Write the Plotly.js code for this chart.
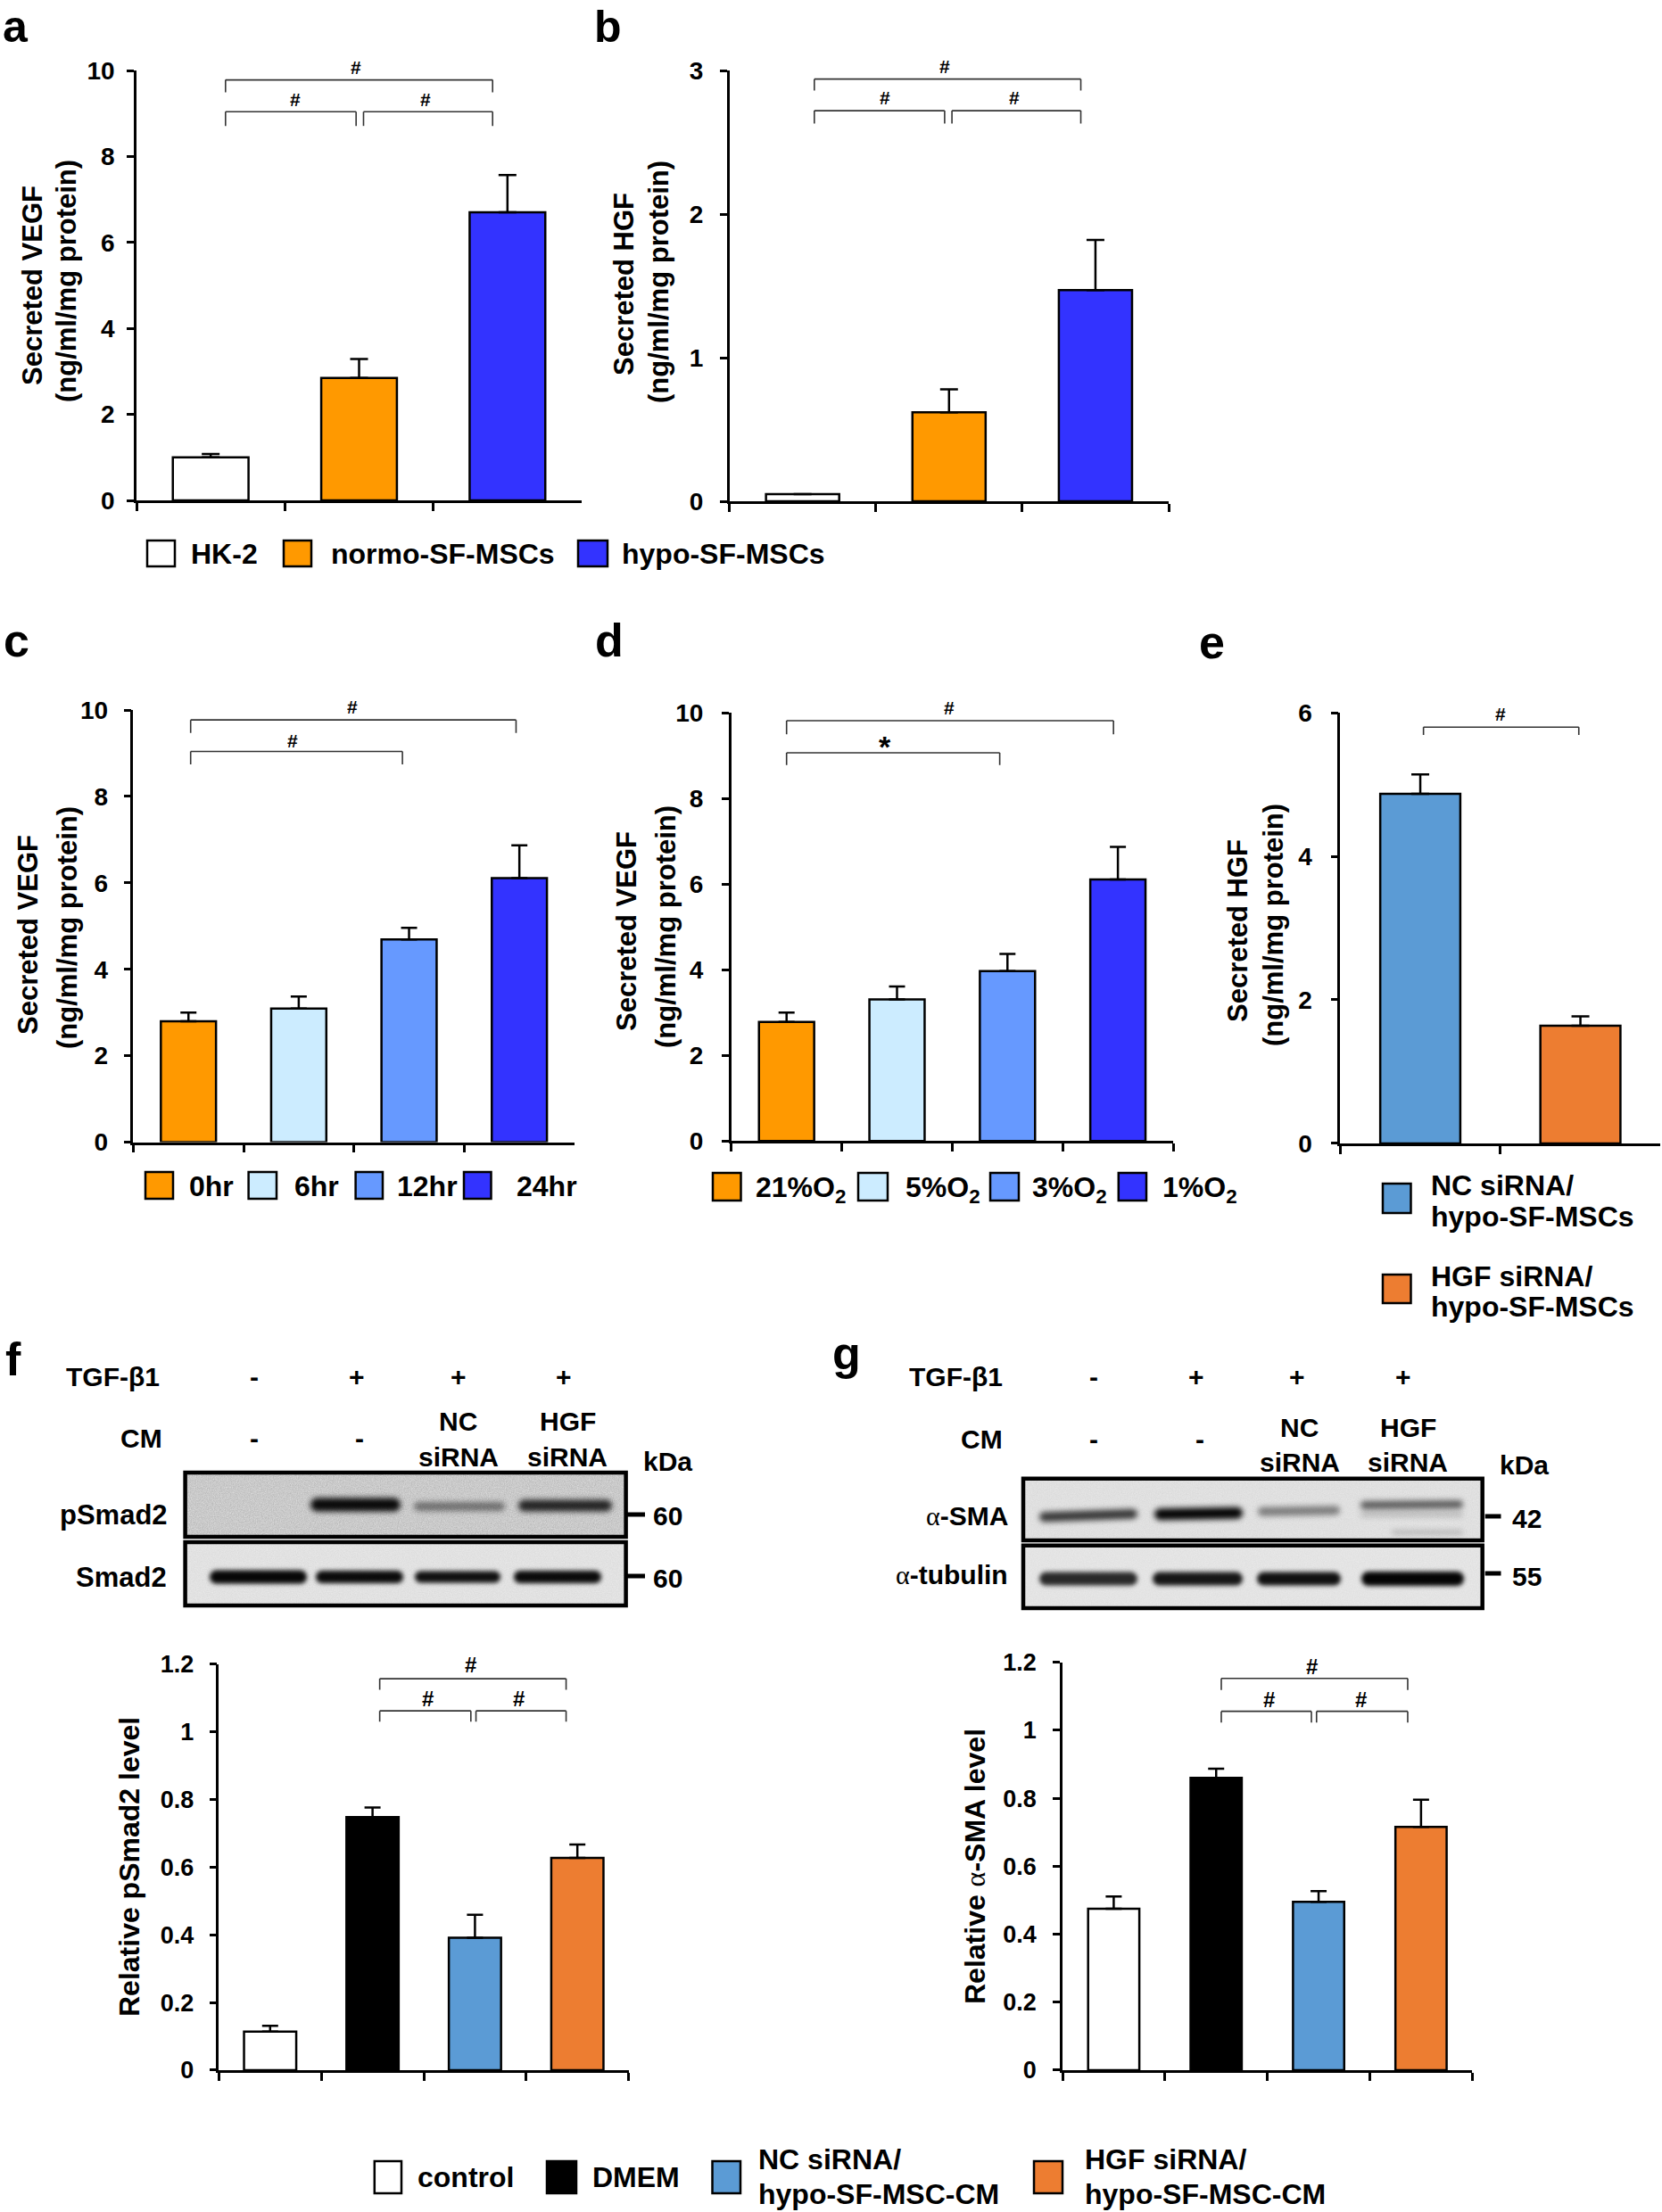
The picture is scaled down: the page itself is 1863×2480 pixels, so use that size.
<!DOCTYPE html>
<html><head><meta charset="utf-8">
<script src="https://cdn.plot.ly/plotly-3.0.1.min.js"></script>
<style>html,body{margin:0;padding:0;background:#fff}</style>
</head><body><div id="chart" style="width:1863px;height:2480px"></div>
<script>
// ---------------- DATA ----------------
const catsAB = ['HK-2', 'normo-SF-MSCs', 'hypo-SF-MSCs'];
const vegfA = [1.00, 2.85, 6.70];
const vegfAErr = [0.08, 0.44, 0.87];
const hgfB = [0.05, 0.62, 1.47];
const hgfBErr = [0.00, 0.16, 0.35];
const catsC = ['0hr', '6hr', '12hr', '24hr'];
const vegfC = [2.80, 3.09, 4.69, 6.11];
const vegfCErr = [0.20, 0.28, 0.27, 0.76];
const catsD = ['21%O2', '5%O2', '3%O2', '1%O2'];
const vegfD = [2.78, 3.31, 3.97, 6.11];
const vegfDErr = [0.22, 0.30, 0.40, 0.76];
const catsE = ['NC siRNA/hypo-SF-MSCs', 'HGF siRNA/hypo-SF-MSCs'];
const hgfE = [4.87, 1.64];
const hgfEErr = [0.27, 0.13];
const catsFG = ['control', 'DMEM', 'NC siRNA/hypo-SF-MSC-CM', 'HGF siRNA/hypo-SF-MSC-CM'];
const pSmad2F = [0.114, 0.748, 0.391, 0.627];
const pSmad2FErr = [0.017, 0.028, 0.068, 0.040];
const aSMAG = [0.475, 0.860, 0.495, 0.716];
const aSMAGErr = [0.036, 0.027, 0.032, 0.080];
const tgfLanes = ['-', '+', '+', '+'];
const cmLanes = ['-', '-', 'NC siRNA', 'HGF siRNA'];

// ---------------- STYLE / LAYOUT ----------------
const W = 1863, H = 2480;
const FONT = 'Liberation Sans, Arial, Helvetica, sans-serif';
const PX = x => x / W, PY = y => 1 - y / H;
const C = {white:'#FFFFFF', orange:'#FF9900', blue:'#3333FF', pale:'#CCECFF', mid:'#6699FF',
           eblue:'#5B9BD5', eorange:'#ED7D31', black:'#000000'};

const panels = [
  {n:'',  cats:catsAB, vals:vegfA, errs:vegfAErr, colors:[C.white,C.orange,C.blue], xd:[153,652], yd:[79,561], range:[0,10], dtick:2, tf:28, bw:0.51, cap:10, so:8},
  {n:'2', cats:catsAB, vals:hgfB, errs:hgfBErr, colors:[C.white,C.orange,C.blue], xd:[817.6,1310], yd:[79,562], range:[0,3], dtick:1, tf:28, bw:0.5, cap:10, so:13},
  {n:'3', cats:catsC, vals:vegfC, errs:vegfCErr, colors:[C.orange,C.pale,C.mid,C.blue], xd:[149.4,644], yd:[796,1280.6], range:[0,10], dtick:2, tf:28, bw:0.5, cap:9, so:12},
  {n:'4', cats:catsD, vals:vegfD, errs:vegfDErr, colors:[C.orange,C.pale,C.mid,C.blue], xd:[819.8,1315], yd:[799.3,1279.3], range:[0,10], dtick:2, tf:28, bw:0.5, cap:9, so:15},
  {n:'5', cats:catsE, vals:hgfE, errs:hgfEErr, colors:[C.eblue,C.eorange], xd:[1502.3,1861.3], yd:[799.1,1281.9], range:[0,6], dtick:2, tf:28, bw:0.5, cap:10, so:15},
  {n:'6', cats:catsFG, vals:pSmad2F, errs:pSmad2FErr, colors:[C.white,C.black,C.eblue,C.eorange], xd:[245.4,704.6], yd:[1865.8,2320.9], range:[0,1.2], dtick:0.2, tf:27, bw:0.51, cap:9, so:12},
  {n:'7', cats:catsFG, vals:aSMAG, errs:aSMAGErr, colors:[C.white,C.black,C.eblue,C.eorange], xd:[1191,1650.3], yd:[1863.8,2320.9], range:[0,1.2], dtick:0.2, tf:27, bw:0.5, cap:9, so:13},
];

const traces = [];
const layout = {width:W, height:H, margin:{l:0,r:0,t:0,b:0}, paper_bgcolor:'#fff', plot_bgcolor:'rgba(0,0,0,0)',
  showlegend:false, font:{family:FONT, color:'#000'}, shapes:[], annotations:[], images:[]};

panels.forEach(p => {
  const n = p.n;
  layout['xaxis'+n] = {domain:[PX(p.xd[0]),PX(p.xd[1])], anchor:'y'+n, type:'category',
    range:[-0.5, p.cats.length-0.5], showline:true, linewidth:2.5, linecolor:'#000',
    ticks:'outside', tickson:'boundaries', ticklen:9, tickwidth:2.5, tickcolor:'#000',
    showticklabels:false, showgrid:false, zeroline:false, fixedrange:true};
  layout['yaxis'+n] = {domain:[PY(p.yd[1]),PY(p.yd[0])], anchor:'x'+n, range:p.range, tick0:0, dtick:p.dtick,
    showline:true, linewidth:2.5, linecolor:'#000', ticks:'outside', ticklen:8, tickwidth:2.5, tickcolor:'#000',
    tickfont:{family:FONT, size:p.tf, color:'#000', weight:700}, ticklabelstandoff:p.so,
    showgrid:false, zeroline:false, fixedrange:true};
  traces.push({type:'bar', x:p.cats, y:p.vals, xaxis:'x'+n, yaxis:'y'+n, width:p.bw,
    marker:{color:p.colors, line:{color:'#000', width:2.5}},
    error_y:{type:'data', symmetric:false, array:p.errs, arrayminus:p.errs.map(()=>0),
             color:'#000', thickness:2.5, width:p.cap},
    hoverinfo:'x+y'});
});

// ---------- helpers ----------
function txt(text, x, y, size, o) {
  o = o || {};
  layout.annotations.push({text:text, x:PX(x), y:PY(y), xref:'paper', yref:'paper', showarrow:false,
    xanchor:o.xa||'center', yanchor:o.ya||'middle', textangle:o.ang||0,
    font:{family:FONT, size:size, color:'#000', weight:o.w||700}});
}
// significance label: x in category units of the panel, y converted from the panel's value scale
function dtxt(n, text, x, v, size) {
  const p = panels.find(q => q.n === n);
  const ypx = p.yd[1] - (v - p.range[0]) / (p.range[1] - p.range[0]) * (p.yd[1] - p.yd[0]);
  layout.annotations.push({text:text, x:x, y:PY(ypx), xref:'x'+n, yref:'paper', showarrow:false,
    xanchor:'center', yanchor:'middle', font:{family:FONT, size:size, color:'#000', weight:700}});
}
function bracket(n, x0, x1, y, yLeg) {
  const line = {color:'#333', width:1.6};
  const s = {type:'line', xref:'x'+n, yref:'y'+n};
  layout.shapes.push(Object.assign({}, s, {x0:x0, x1:x1, y0:y, y1:y, line:line}));
  layout.shapes.push(Object.assign({}, s, {x0:x0, x1:x0, y0:y, y1:yLeg, line:line}));
  layout.shapes.push(Object.assign({}, s, {x0:x1, x1:x1, y0:y, y1:yLeg, line:line}));
}
function box(x0, x1, y0, y1, color, lw) {
  layout.shapes.push({type:'rect', xref:'paper', yref:'paper', x0:PX(x0), x1:PX(x1), y0:PY(y1), y1:PY(y0),
    fillcolor:color, line:{color:'#000', width:lw||2.5}});
}
function pline(x0, y0, x1, y1, w) {
  layout.shapes.push({type:'line', xref:'paper', yref:'paper', x0:PX(x0), x1:PX(x1), y0:PY(y0), y1:PY(y1),
    line:{color:'#000', width:w}});
}

// ---------- panel letters ----------
txt('a', 1, 0, 50, {xa:'left', ya:'top'});
txt('b', 664, 0, 50, {xa:'left', ya:'top'});
[['c',2,718],['d',665,718],['e',1342,720],['f',4,1524],['g',931,1517]]
  .forEach(l => txt(l[0], l[1], l[2], 52, {xa:'left'}));

// ---------- y titles ----------
const yt = 31;
txt('Secreted VEGF', 36, 320, yt, {ang:-90}); txt('(ng/ml/mg protein)', 75, 315, yt, {ang:-90});
txt('Secreted HGF', 699, 319, yt, {ang:-90}); txt('(ng/ml/mg protein)', 738, 316, yt, {ang:-90});
txt('Secreted VEGF', 31, 1048, yt, {ang:-90}); txt('(ng/ml/mg protein)', 75, 1040, yt, {ang:-90});
txt('Secreted VEGF', 703, 1044, yt, {ang:-90}); txt('(ng/ml/mg protein)', 746, 1039, yt, {ang:-90});
txt('Secreted HGF', 1388, 1044, yt, {ang:-90}); txt('(ng/ml/mg protein)', 1427, 1037, yt, {ang:-90});
txt('Relative pSmad2 level', 145, 2093, 32, {ang:-90});
txt('Relative <span style="font-family:Liberation Serif;font-weight:400">α</span>-SMA level', 1093, 2093, 32, {ang:-90});

// ---------- significance brackets ----------
bracket('', 0.1, 1.9, 9.78, 9.49); bracket('', 0.1, 0.98, 9.04, 8.71); bracket('', 1.03, 1.9, 9.04, 8.71);
dtxt('', '#', 0.98, 10.08, 21); dtxt('', '#', 0.57, 9.32, 21); dtxt('', '#', 1.45, 9.32, 21);
bracket('2', 0.08, 1.9, 2.94, 2.86); bracket('2', 0.08, 0.97, 2.72, 2.63); bracket('2', 1.02, 1.9, 2.72, 2.63);
dtxt('2', '#', 0.97, 3.03, 21); dtxt('2', '#', 0.56, 2.81, 21); dtxt('2', '#', 1.445, 2.81, 21);
bracket('3', 0.02, 2.97, 9.77, 9.47); bracket('3', 0.02, 1.94, 9.04, 8.74);
dtxt('3', '#', 1.49, 10.08, 21); dtxt('3', '#', 0.945, 9.28, 21);
bracket('4', 0.0, 2.96, 9.82, 9.5); bracket('4', 0.0, 1.93, 9.07, 8.78);
dtxt('4', '#', 1.47, 10.13, 21); dtxt('4', '*', 0.89, 9.22, 34);
bracket('5', 0.02, 0.99, 5.80, 5.69);
dtxt('5', '#', 0.5, 5.98, 21);
bracket('6', 1.07, 2.89, 1.157, 1.124); bracket('6', 1.07, 1.96, 1.062, 1.030); bracket('6', 2.01, 2.89, 1.062, 1.030);
dtxt('6', '#', 1.96, 1.198, 24); dtxt('6', '#', 1.54, 1.099, 24); dtxt('6', '#', 2.43, 1.099, 24);
bracket('7', 1.05, 2.87, 1.153, 1.119); bracket('7', 1.05, 1.93, 1.056, 1.023); bracket('7', 1.98, 2.87, 1.056, 1.023);
dtxt('7', '#', 1.93, 1.187, 24); dtxt('7', '#', 1.52, 1.091, 24); dtxt('7', '#', 2.41, 1.091, 24);

// ---------- legends ----------
const LF = 32;
[[165,196,212],[318,349,369],[648,681,695]].forEach((g,i) => {
  box(g[0], g[1], 606, 635, panels[0].colors[i]); txt(catsAB[i], g[2], 621, LF, {xa:'left'});
});
[[163,194,209.6],[278.6,310,328],[398.6,429,442.8],[520,550.5,576.6]].forEach((g,i) => {
  box(g[0], g[1], 1314, 1344, panels[2].colors[i]); txt(catsC[i], g[2], 1330, LF, {xa:'left'});
});
[[799,830.5,845],[962,995,1012.7],[1110,1142,1154.6],[1253.8,1285,1300.6]].forEach((g,i) => {
  box(g[0], g[1], 1315, 1346, panels[3].colors[i]);
  txt(catsD[i].replace('O2','O<sub>2</sub>'), g[2], 1333, LF, {xa:'left'});
});
[[1327,1360,1329,1364],[1429,1461,1431,1465]].forEach((g,i) => {
  box(1550, 1581.5, g[0], g[1], panels[4].colors[i]);
  const parts = catsE[i].split('/');
  txt(parts[0]+'/', 1602, g[2], LF, {xa:'left'}); txt(parts[1], 1602, g[3], LF, {xa:'left'});
});
[[419.8,450,465.7],[613,646,661.6],[798.5,830,848],[1159,1191,1214]].forEach((g,i) => {
  box(g[0], g[1], 2423, 2459, panels[5].colors[i]);
  const parts = catsFG[i].split('/');
  if (parts.length === 1) txt(parts[0], g[2], 2441, LF, {xa:'left'});
  else { txt(parts[0]+'/', g[2], 2421, LF, {xa:'left'}); txt(parts[1], g[2], 2460, LF, {xa:'left'}); }
});

// ---------- western blots (illustrations) ----------
function blotImage(b) {
  const w = b.x1 - b.x0, h = b.y1 - b.y0;
  let s = "<svg xmlns='http://www.w3.org/2000/svg' width='" + w + "' height='" + h + "' viewBox='0 0 " + w + " " + h + "'>" +
    "<defs><filter id='f' x='-30%' y='-150%' width='160%' height='400%'><feGaussianBlur stdDeviation='" + b.blur + "'/></filter>" +
    "<filter id='n' x='0' y='0' width='100%' height='100%'><feTurbulence type='fractalNoise' baseFrequency='0.85' numOctaves='2' seed='" + b.seed + "'/>" +
    "<feColorMatrix type='matrix' values='0 0 0 0 0  0 0 0 0 0  0 0 0 0 0  0 0 0 " + b.noise + " 0'/></filter></defs>" +
    "<rect width='" + w + "' height='" + h + "' fill='" + b.bg + "'/>" +
    "<rect width='" + w + "' height='" + h + "' filter='url(#n)'/>";
  b.bands.forEach(bd => {
    const [x0, x1, yc, hh, d, tilt] = bd;
    const cx = (x0 + x1) / 2 - b.x0, cy = yc - b.y0;
    s += "<g transform='rotate(" + (tilt || 0) + " " + cx + " " + cy + ")'>" +
      "<rect x='" + (x0 - b.x0) + "' y='" + (yc - hh/2 - b.y0) + "' width='" + (x1 - x0) + "' height='" + hh +
      "' rx='" + (hh/2) + "' fill='#050505' fill-opacity='" + d + "' filter='url(#f)'/></g>";
  });
  s += "</svg>";
  layout.images.push({source:'data:image/svg+xml;charset=utf-8,' + encodeURIComponent(s), xref:'paper', yref:'paper',
    x:PX(b.x0), y:PY(b.y0), sizex:w/W, sizey:h/H, xanchor:'left', yanchor:'top', sizing:'stretch', layer:'above'});
  layout.shapes.push({type:'rect', xref:'paper', yref:'paper', x0:PX(b.x0), x1:PX(b.x1), y0:PY(b.y1), y1:PY(b.y0),
    line:{color:'#000', width:4.5}, fillcolor:'rgba(0,0,0,0)'});
}
blotImage({x0:207.6, x1:701.6, y0:1651, y1:1723, bg:'#e2e2e2', blur:3.2, seed:4, noise:0.22,
  bands:[[348,449,1687,15,0.95],[464,566,1689,10,0.45],[581,686,1688,13,0.82]]});
blotImage({x0:207.6, x1:701.6, y0:1729, y1:1800, bg:'#ebebeb', blur:2.6, seed:7, noise:0.08,
  bands:[[235,344,1768,15,0.97],[354,452,1768,14,0.95],[465,561,1768,13,0.93],[576,674,1768,14,0.95]]});
blotImage({x0:1147, x1:1661.7, y0:1657.8, y1:1727, bg:'#e9e9e9', blur:3, seed:2, noise:0.08,
  bands:[[1165,1275,1699,11,0.75,-2],[1294,1393,1697,13,0.98,-1],[1410,1502,1694,10,0.45,-1],
         [1525,1640,1687,9,0.6,-0.5],[1525,1640,1698,5,0.2],[1560,1640,1718,5,0.2]]});
blotImage({x0:1147, x1:1661.7, y0:1732.7, y1:1803, bg:'#ebebeb', blur:2.8, seed:9, noise:0.06,
  bands:[[1165,1275,1770,15,0.82],[1292,1393,1770,15,0.9],[1409,1503,1770,15,0.93],[1526,1641,1770,16,0.98]]});

// blot labels f
const BF = 30;
txt('TGF-β1', 181, 1543, BF, {xa:'right'});
txt('CM', 184, 1612, BF, {xa:'right'});
[284.7, 400, 513.6, 631.7].forEach((x,i) => txt(tgfLanes[i], x, 1543, BF));
[284.7, 403, 513.6, 636.4].forEach((x,i) => {
  const parts = cmLanes[i].split(' ');
  if (parts.length === 1) txt(parts[0], x, 1612, BF);
  else { txt(parts[0], x, 1593, BF); txt(parts[1], x, 1634, BF); }
});
txt('kDa', 748, 1638, BF);
txt('pSmad2', 190, 1698, 31, {xa:'right'});
txt('Smad2', 189, 1768, 31, {xa:'right'});
pline(703, 1698, 723, 1698, 5); pline(703, 1767, 723, 1767, 5);
txt('60', 729.5, 1700, BF, {xa:'left'}); txt('60', 729.5, 1769, BF, {xa:'left'});
// blot labels g
txt('TGF-β1', 1126, 1543, BF, {xa:'right'});
txt('CM', 1126, 1613, BF, {xa:'right'});
[1225.7, 1340.5, 1453.5, 1572.5].forEach((x,i) => txt(tgfLanes[i], x, 1543, BF));
[1225.7, 1344.6, 1456.5, 1578.4].forEach((x,i) => {
  const parts = cmLanes[i].split(' ');
  if (parts.length === 1) txt(parts[0], x, 1613, BF);
  else { txt(parts[0], x, 1600, BF); txt(parts[1], x, 1639, BF); }
});
txt('kDa', 1708, 1642, BF);
txt('<span style="font-family:Liberation Serif;font-weight:400">α</span>-SMA', 1132, 1700, BF, {xa:'right'});
txt('<span style="font-family:Liberation Serif;font-weight:400">α</span>-tubulin', 1132, 1765, BF, {xa:'right'});
pline(1664.7, 1700, 1682.5, 1700, 5); pline(1664.7, 1764, 1682.5, 1764, 5);
txt('42', 1693, 1702, BF, {xa:'left'}); txt('55', 1693, 1767, BF, {xa:'left'});

Plotly.newPlot('chart', traces, layout, {displayModeBar:false, responsive:false});
</script></body></html>
